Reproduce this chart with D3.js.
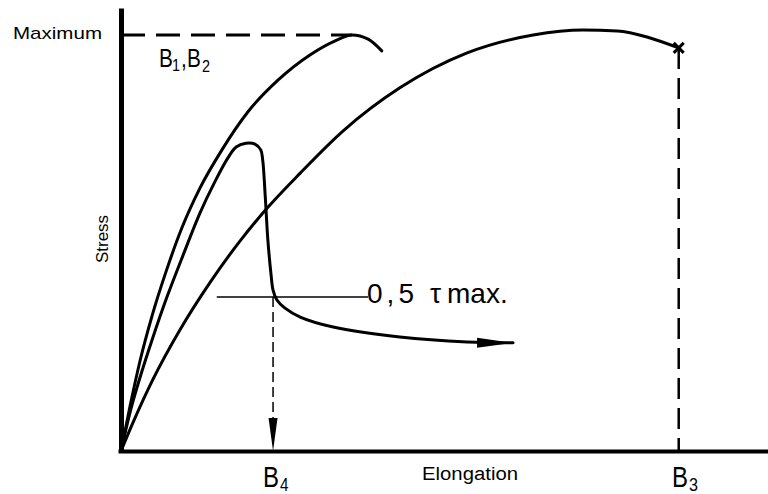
<!DOCTYPE html>
<html>
<head>
<meta charset="utf-8">
<script src="https://cdn.jsdelivr.net/npm/d3@7"></script>
<style>
  html, body { margin: 0; padding: 0; background: #fff; }
  text { font-family: "Liberation Sans", Arial, sans-serif; fill: #000; }
</style>
</head>
<body>
<div id="chart"></div>
<script>
// curve B1,B2 (elongation, stress)
const b12Elong  = [0, 1.4, 2.9, 4.8, 7.0, 9.4, 12.2, 15.6, 19.6, 24.3, 29.2, 33.1, 35.7, 38.2, 40.3];
const b12Stress = [0, 10.8, 21.4, 32.5, 43.3, 53.6, 63.2, 72.4, 81.5, 89.2, 95.2, 98.6, 100, 99.0, 96.2];
// curve B4
const b4Elong  = [0, 1.5, 2.9, 4.8, 7.1, 9.6, 12.2, 14.5, 16.5, 17.8, 19.3, 20.7, 21.6, 21.9, 22.3, 22.7, 23.2, 23.5, 24.1, 25.3, 27.7, 32.8, 43.1, 53.5, 60.6];
const b4Stress = [0, 9.9, 17.5, 26.7, 37.0, 47.1, 57.2, 64.7, 70.4, 73.1, 74.0, 73.8, 72.4, 70.0, 61.1, 50.7, 42.3, 38.7, 36.3, 34.4, 32.2, 29.8, 27.4, 26.2, 26.0];
// curve B3
const b3Elong  = [0, 1.9, 4.9, 9.1, 13.8, 18.5, 22.6, 27.7, 34.3, 43.1, 53.5, 63.7, 71.4, 76.7, 81.8, 86.2];
const b3Stress = [0, 7.0, 17.1, 29.1, 40.6, 50.7, 58.4, 66.8, 76.9, 87.3, 95.7, 100, 101.2, 101.0, 99.3, 96.9];

const stressMax = 100;          // "Maximum" level
const maxLineEnd = 35.7;        // dashed maximum line ends at B1,B2 peak
const b4Break = 23.5;           // elongation at 0,5 tau max
const b3Break = 86.2;           // elongation at break of B3
const halfLineSpan = [14.8, 38.2];

var width = 768, height = 494;

var svg = d3.select('#chart').append('svg')
    .attr('width', width)
    .attr('height', height);

var x = d3.scaleLinear().domain([0, 100]).range([121, 768]);
var y = d3.scaleLinear().domain([0, 106.5]).range([451, 8]);

var smooth = d3.line()
    .x(d => x(d[0]))
    .y(d => y(d[1]))
    .curve(d3.curveMonotoneX);

var sharp = d3.line()
    .x(d => x(d[0]))
    .y(d => y(d[1]))
    .curve(d3.curveCatmullRom.alpha(0.5));

const zip = (a, b) => a.map((v, i) => [v, b[i]]);

// dashed lines first
svg.append('line')
    .attr('x1', x(0)).attr('x2', x(maxLineEnd))
    .attr('y1', y(stressMax)).attr('y2', y(stressMax))
    .attr('stroke', '#000').attr('stroke-width', 3)
    .attr('stroke-dasharray', '24,11');

svg.append('line')
    .attr('x1', x(b3Break)).attr('x2', x(b3Break))
    .attr('y1', y(b3Stress[b3Stress.length - 1])).attr('y2', y(0))
    .attr('stroke', '#000').attr('stroke-width', 2.5)
    .attr('stroke-dasharray', '21,9');

var halfStress = d3.max(b4Stress) * 0.5;

svg.append('line')
    .attr('x1', x(halfLineSpan[0])).attr('x2', x(halfLineSpan[1]))
    .attr('y1', y(halfStress)).attr('y2', y(halfStress))
    .attr('stroke', '#000').attr('stroke-width', 1.5);

svg.append('line')
    .attr('x1', x(b4Break)).attr('x2', x(b4Break))
    .attr('y1', y(halfStress)).attr('y2', y(0) - 30)
    .attr('stroke', '#000').attr('stroke-width', 1.5)
    .attr('stroke-dasharray', '10,5');

// arrowhead down to the axis at B4
var ax = x(b4Break), ay = y(0);
svg.append('path')
    .attr('d', `M${ax},${ay}L${ax - 4.5},${ay - 33}L${ax + 4.5},${ay - 33}Z`)
    .attr('fill', '#000');

// curves
[[zip(b12Elong, b12Stress), smooth], [zip(b4Elong, b4Stress), sharp], [zip(b3Elong, b3Stress), smooth]].forEach(c => {
    svg.append('path')
        .datum(c[0])
        .attr('d', c[1])
        .attr('fill', 'none')
        .attr('stroke', '#000')
        .attr('stroke-width', 3)
        .attr('stroke-linejoin', 'round')
        .attr('stroke-linecap', 'round');
});

// arrow at the end of B4
var tx = x(b4Elong[b4Elong.length - 1]), ty = y(b4Stress[b4Stress.length - 1]);
svg.append('path')
    .attr('d', `M${tx},${ty}L${tx - 36},${ty - 5}L${tx - 36},${ty + 5}Z`)
    .attr('fill', '#000');

// cross at break of B3
var cx = x(b3Break), cy = y(b3Stress[b3Stress.length - 1]);
svg.append('path')
    .attr('d', `M${cx - 5},${cy - 5}L${cx + 5},${cy + 5}M${cx - 5},${cy + 5}L${cx + 5},${cy - 5}`)
    .attr('stroke', '#000').attr('stroke-width', 3);

// axes, no ticks
svg.append('g')
    .attr('transform', `translate(${x(0)},0)`)
    .call(d3.axisLeft(y).ticks(0).tickSizeOuter(0))
    .call(g => g.select('.domain').attr('stroke-width', 5));

svg.append('g')
    .attr('transform', `translate(0,${y(0)})`)
    .call(d3.axisBottom(x.copy().range([118, 768])).ticks(0).tickSizeOuter(0))
    .call(g => g.select('.domain').attr('stroke-width', 4));

// labels
function label(px, py, size, str, sx) {
    return svg.append('text')
        .attr('transform', `translate(${px},${py}) scale(${sx || 1},1)`)
        .attr('font-size', size)
        .text(str);
}

label(13, 39, 17, 'Maximum').attr('textLength', 89).attr('lengthAdjust', 'spacingAndGlyphs');

svg.append('text')
    .attr('transform', 'translate(108,239) rotate(-90)')
    .attr('text-anchor', 'middle')
    .attr('font-size', 16)
    .attr('textLength', 48)
    .attr('lengthAdjust', 'spacingAndGlyphs')
    .text('Stress');

label(422, 480, 18, 'Elongation').attr('textLength', 96).attr('lengthAdjust', 'spacingAndGlyphs');

// B1,B2
label(159, 67, 26, 'B', 0.8);
label(172, 71, 17, '1', 0.85);
label(181, 67, 26, ',', 0.8);
label(187, 67, 26, 'B', 0.8);
label(202, 72, 17, '2', 0.85);

// B4, B3
label(263, 487, 30, 'B', 0.8);
label(280, 491, 18, '4', 0.85);
label(672, 487, 30, 'B', 0.8);
label(689, 491, 19, '3', 0.85);

// 0,5 tau max.
label(367, 303, 28, '0,5').attr('textLength', 47).attr('lengthAdjust', 'spacing');
label(430, 303, 28, 'τ');
label(447, 303, 28, 'max.');
</script>
</body>
</html>
